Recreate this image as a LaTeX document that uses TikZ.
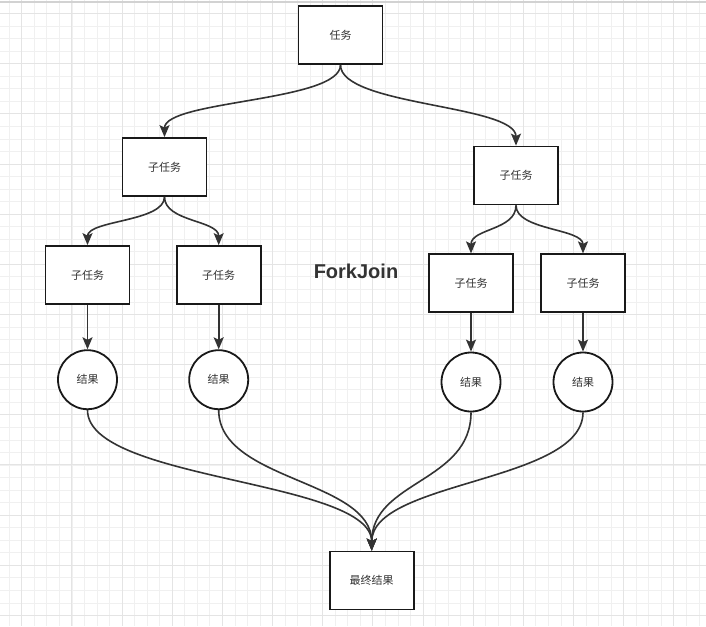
\documentclass[tikz,border=0pt]{standalone}
\usepackage{fontspec}
\setmainfont{Liberation Sans}
\newfontfamily\cjk{Noto Sans CJK SC}
\usetikzlibrary{arrows.meta}
\definecolor{gridminor}{HTML}{F0F0F0}
\definecolor{gridmajor}{HTML}{E4E4E4}
\definecolor{inkgray}{HTML}{333333}

\begin{document}
\begin{tikzpicture}[x=1pt,y=-1pt,
    taskbox/.style={draw=black!90,line width=1.8pt,fill=white,minimum width=84pt,minimum height=58pt,inner sep=0pt,text=inkgray,font=\cjk\fontsize{11}{13}\selectfont},
    resultnode/.style={draw=black!90,line width=1.8pt,fill=white,circle,minimum size=59pt,inner sep=0pt,text=inkgray,font=\cjk\fontsize{11}{13}\selectfont},
    flow/.style={draw=inkgray,line width=1.6pt,-{Stealth[length=12pt,width=10pt,inset=2.5pt]}}]
    % background grid
    \useasboundingbox (0,0) rectangle (706,626);
    \fill[white] (0,0) rectangle (706,626);
    \foreach \i in {0,...,55} \draw[gridminor,line width=0.8pt] ({9.2+12.54*\i},0)--({9.2+12.54*\i},626);
    \foreach \i in {0,...,49} \draw[gridminor,line width=0.8pt] (0,{1+12.54*\i})--(706,{1+12.54*\i});
    \foreach \i in {0,...,13} \draw[gridmajor,line width=0.8pt] ({21.7+50.15*\i},0)--({21.7+50.15*\i},626);
    \foreach \i in {0,...,12} \draw[gridmajor,line width=0.8pt] (0,{13.5+50.15*\i})--(706,{13.5+50.15*\i});
    \draw[gray!35,line width=1.5pt] (0,2)--(706,2);

    % nodes
    \node[taskbox] (task) at (340.5,35) {任务};
    \node[taskbox] (subL) at (164.5,167) {子任务};
    \node[taskbox] (subR) at (516,175.5) {子任务};
    \node[taskbox] (subLL) at (87.5,275) {子任务};
    \node[taskbox] (subLR) at (218.7,275) {子任务};
    \node[taskbox] (subRL) at (471,283.3) {子任务};
    \node[taskbox] (subRR) at (583,283.3) {子任务};
    \node[resultnode] (resLL) at (87.5,379.7) {结果};
    \node[resultnode] (resLR) at (218.7,379.7) {结果};
    \node[resultnode] (resRL) at (471,382) {结果};
    \node[resultnode] (resRR) at (583,382) {结果};
    \node[taskbox] (final) at (371.7,580.5) {最终结果};
    \node[anchor=base,text=inkgray,font=\bfseries\fontsize{20}{24}\selectfont] (title) at (356,278) {ForkJoin};

    % fork
    \draw[flow] (task.south) .. controls +(0,37) and +(0,-37) .. (subL.north);
    \draw[flow] (task.south) .. controls +(0,41) and +(0,-41) .. (subR.north);
    \draw[flow] (subL.south) .. controls +(0,25) and +(0,-25) .. (subLL.north);
    \draw[flow] (subL.south) .. controls +(0,25) and +(0,-25) .. (subLR.north);
    \draw[flow] (subR.south) .. controls +(0,25) and +(0,-25) .. (subRL.north);
    \draw[flow] (subR.south) .. controls +(0,25) and +(0,-25) .. (subRR.north);
    \draw[flow] (subLL) -- (resLL);
    \draw[flow] (subLR) -- (resLR);
    \draw[flow] (subRL) -- (resRL);
    \draw[flow] (subRR) -- (resRR);
    % join
    \draw[flow] (resLL.south) .. controls +(0,71) and +(0,-71) .. (final.north);
    \draw[flow] (resLR.south) .. controls +(0,71) and +(0,-71) .. (final.north);
    \draw[flow] (resRL.south) .. controls +(0,70) and +(0,-70) .. (final.north);
    \draw[flow] (resRR.south) .. controls +(0,70) and +(0,-70) .. (final.north);
\end{tikzpicture}
\end{document}
